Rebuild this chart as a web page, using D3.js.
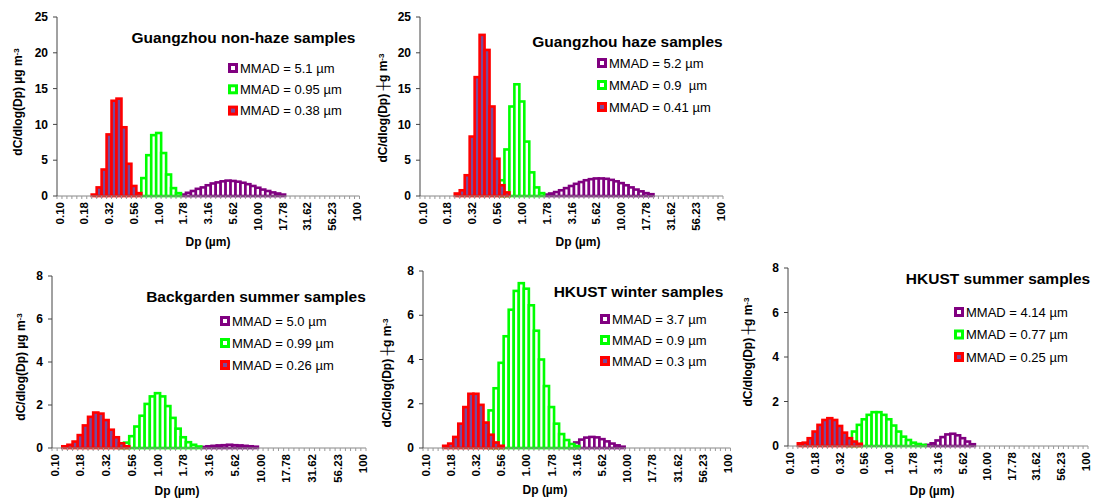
<!DOCTYPE html>
<html>
<head>
<meta charset="utf-8">
<script src="https://cdn.jsdelivr.net/npm/d3@7"></script>
<style>
  body { margin: 0; background: #fff; }
  text { font-family: Arial, "Liberation Sans", sans-serif; fill: #000; }
</style>
</head>
<body>
<svg id="chart" width="1094" height="500"></svg>
<script>
// size bins: 20 per decade, 0.1 to 100 um (61 categories like the excel axis)
var categories = d3.range(61);
var tickLabels = ["0.10", "0.18", "0.32", "0.56", "1.00", "1.78", "3.16", "5.62", "10.00", "17.78", "31.62", "56.23", "100"];

var seriesColors = ["#800080", "#00ff00", "#ff0000"];
var seriesFills = ["#ffffff", "#ffffff", "#7a4a9a"];

// first bin of each mode, then dC/dlogDp per bin
var gznPurple = {first: 25, values: [0.2, 0.45, 0.7, 1.0, 1.2, 1.5, 1.75, 1.9, 2.05, 2.15, 2.1, 2.0, 1.85, 1.65, 1.4, 1.15, 0.9, 0.7, 0.5, 0.35, 0.2]};
var gznGreen = {first: 17, values: [2.5, 5.7, 8.5, 8.8, 6.0, 3.0, 1.1, 0.4]};
var gznRed = {first: 7, values: [0.2, 1.2, 3.7, 8.6, 13.3, 13.6, 9.6, 4.5, 1.4, 0.4]};
var gznLegend = ["MMAD = 5.1 µm", "MMAD = 0.95 µm", "MMAD = 0.38 µm"];

var gzhPurple = {first: 25, values: [0.2, 0.35, 0.55, 0.8, 1.1, 1.4, 1.7, 1.95, 2.2, 2.35, 2.45, 2.45, 2.4, 2.25, 2.05, 1.8, 1.5, 1.2, 0.9, 0.65, 0.4, 0.25]};
var gzhGreen = {first: 16, values: [2.2, 6.5, 12.5, 15.6, 13.2, 7.6, 3.3, 1.2, 0.4]};
var gzhRed = {first: 7, values: [0.35, 0.8, 2.9, 8.3, 16.6, 22.5, 20.4, 12.5, 5.2, 1.5, 0.5]};
var gzhLegend = ["MMAD = 5.2 µm", "MMAD = 0.9  µm", "MMAD = 0.41 µm"];

var bgPurple = {first: 29, values: [0.05, 0.08, 0.1, 0.12, 0.13, 0.15, 0.13, 0.12, 0.1, 0.08, 0.06]};
var bgGreen = {first: 13, values: [0.15, 0.25, 0.55, 1.0, 1.5, 2.05, 2.4, 2.55, 2.4, 1.95, 1.4, 0.9, 0.5, 0.27, 0.15, 0.07]};
var bgRed = {first: 2, values: [0.08, 0.15, 0.3, 0.6, 1.05, 1.45, 1.65, 1.6, 1.3, 0.85, 0.5, 0.22, 0.08]};
var bgLegend = ["MMAD = 5.0 µm", "MMAD = 0.99 µm", "MMAD = 0.26 µm"];

var hkwPurple = {first: 29, values: [0.15, 0.25, 0.38, 0.47, 0.5, 0.48, 0.4, 0.3, 0.2, 0.12, 0.06]};
var hkwGreen = {first: 13, values: [1.7, 2.7, 3.85, 5.05, 6.25, 7.1, 7.45, 7.2, 6.45, 5.3, 4.0, 2.8, 1.85, 1.1, 0.63, 0.36, 0.18, 0.09]};
var hkwRed = {first: 4, values: [0.1, 0.2, 0.5, 1.1, 1.85, 2.45, 2.45, 1.95, 1.15, 0.6, 0.25, 0.1]};
var hkwLegend = ["MMAD = 3.7 µm", "MMAD = 0.9 µm", "MMAD = 0.3 µm"];

var hksPurple = {first: 28, values: [0.05, 0.12, 0.25, 0.4, 0.52, 0.55, 0.48, 0.35, 0.2, 0.08]};
var hksGreen = {first: 12, values: [0.35, 0.65, 0.95, 1.2, 1.4, 1.52, 1.52, 1.4, 1.2, 0.92, 0.65, 0.42, 0.27, 0.15, 0.09, 0.05]};
var hksRed = {first: 2, values: [0.12, 0.15, 0.35, 0.65, 0.95, 1.17, 1.25, 1.17, 0.9, 0.6, 0.35, 0.2, 0.1]};
var hksLegend = ["MMAD = 4.14 µm", "MMAD = 0.77 µm", "MMAD = 0.25 µm"];

var panels = [
  {title: "Guangzhou non-haze samples", unit: "µ", yMax: 25, yStep: 5,
   series: [gznPurple, gznGreen, gznRed], legend: gznLegend,
   x0: 57, x1: 359.5, yTop: 17, yBot: 196,
   titleX: 243.5, titleY: 42.5, legX: 228, legY: 68, legDy: 21.3,
   yLabX: 18, yLabY: 102, xLabX: 208, xLabY: 246},
  {title: "Guangzhou haze samples", unit: "┼", yMax: 25, yStep: 5,
   series: [gzhPurple, gzhGreen, gzhRed], legend: gzhLegend,
   x0: 420, x1: 723, yTop: 17, yBot: 196,
   titleX: 627.5, titleY: 47, legX: 597, legY: 63, legDy: 22,
   yLabX: 383, yLabY: 108, xLabX: 578, xLabY: 246},
  {title: "Backgarden summer samples", unit: "µ", yMax: 8, yStep: 2,
   series: [bgPurple, bgGreen, bgRed], legend: bgLegend,
   x0: 52, x1: 366, yTop: 276, yBot: 448,
   titleX: 256, titleY: 302, legX: 220, legY: 321, legDy: 22,
   yLabX: 21, yLabY: 367, xLabX: 177, xLabY: 495},
  {title: "HKUST winter samples", unit: "┼", yMax: 8, yStep: 2,
   series: [hkwPurple, hkwGreen, hkwRed], legend: hkwLegend,
   x0: 423, x1: 730.5, yTop: 271, yBot: 448,
   titleX: 638.5, titleY: 297, legX: 600, legY: 319, legDy: 21,
   yLabX: 387, yLabY: 373, xLabX: 545, xLabY: 494},
  {title: "HKUST summer samples", unit: "┼", yMax: 8, yStep: 2,
   series: [hksPurple, hksGreen, hksRed], legend: hksLegend,
   x0: 788, x1: 1088, yTop: 268, yBot: 446,
   titleX: 998, titleY: 283.5, legX: 954, legY: 312, legDy: 22.5,
   yLabX: 748, yLabY: 352, xLabX: 932, xLabY: 495}
];

var svg = d3.select("#chart");

panels.forEach(function(p) {
  var g = svg.append("g");

  var x = d3.scaleBand().domain(categories).range([p.x0, p.x1]).padding(0);
  var y = d3.scaleLinear().domain([0, p.yMax]).range([p.yBot, p.yTop]);

  // bars, purple first so red sits on top
  p.series.forEach(function(s, si) {
    g.append("g").selectAll("rect")
      .data(s.values)
      .enter().append("rect")
        .attr("x", function(d, i) { return x(s.first + i); })
        .attr("y", function(d) { return y(d); })
        .attr("width", x.bandwidth())
        .attr("height", function(d) { return p.yBot - y(d); })
        .attr("fill", seriesFills[si])
        .attr("stroke", seriesColors[si])
        .attr("stroke-width", 2.6);
  });

  // x axis: minor tick at every bin edge, label every 5 bins
  var xa = g.append("g").attr("transform", "translate(0," + p.yBot + ")");
  xa.append("line").attr("x1", p.x0).attr("x2", p.x1).attr("stroke", "#888").attr("stroke-width", 1);
  xa.selectAll("line.tk")
    .data(d3.range(categories.length + 1))
    .enter().append("line")
      .attr("class", "tk")
      .attr("x1", function(i) { return p.x0 + i * x.step(); })
      .attr("x2", function(i) { return p.x0 + i * x.step(); })
      .attr("y1", 0).attr("y2", 3)
      .attr("stroke", "#999").attr("stroke-width", 1);
  xa.selectAll("text")
    .data(tickLabels)
    .enter().append("text")
      .attr("transform", function(d, i) {
        return "translate(" + (x(i * 5) + x.bandwidth() / 2) + ",6) rotate(-90)";
      })
      .attr("text-anchor", "end")
      .attr("dy", "0.35em")
      .style("font-size", "11.5px")
      .style("font-weight", "bold")
      .text(function(d) { return d; });

  // y axis
  var ya = g.append("g").attr("transform", "translate(" + p.x0 + ",0)");
  var yTicks = d3.range(0, p.yMax + 0.01, p.yStep);
  ya.append("line").attr("y1", p.yTop).attr("y2", p.yBot).attr("stroke", "#444");
  ya.selectAll("line.tk")
    .data(yTicks)
    .enter().append("line")
      .attr("class", "tk")
      .attr("x1", -4).attr("x2", 0)
      .attr("y1", function(d) { return y(d); })
      .attr("y2", function(d) { return y(d); })
      .attr("stroke", "#444");
  ya.selectAll("text")
    .data(yTicks)
    .enter().append("text")
      .attr("x", -9)
      .attr("y", function(d) { return y(d); })
      .attr("dy", "0.35em")
      .attr("text-anchor", "end")
      .style("font-size", "12px")
      .style("font-weight", "bold")
      .text(function(d) { return d; });

  // axis titles
  var yl = g.append("text")
    .attr("transform", "translate(" + p.yLabX + "," + p.yLabY + ") rotate(-90)")
    .attr("text-anchor", "middle")
    .attr("dy", "0.35em")
    .style("font-size", "12px")
    .style("font-weight", "bold");
  yl.append("tspan").text("dC/dlog(Dp) " + p.unit + "g m");
  yl.append("tspan").attr("dy", "-0.45em").style("font-size", "8px").text("-3");

  g.append("text")
    .attr("x", p.xLabX).attr("y", p.xLabY)
    .attr("text-anchor", "middle")
    .style("font-size", "12px")
    .style("font-weight", "bold")
    .text("Dp (µm)");

  g.append("text")
    .attr("x", p.titleX).attr("y", p.titleY)
    .attr("text-anchor", "middle")
    .style("font-size", "15.5px")
    .style("font-weight", "bold")
    .text(p.title);

  // legend, same order as the series
  var lg = g.append("g");
  p.legend.forEach(function(label, i) {
    var cy = p.legY + i * p.legDy;
    lg.append("rect")
      .attr("x", p.legX + 1.5).attr("y", cy - 3.5)
      .attr("width", 7).attr("height", 7)
      .attr("fill", seriesFills[i])
      .attr("stroke", seriesColors[i])
      .attr("stroke-width", 3);
    lg.append("text")
      .attr("x", p.legX + 12).attr("y", cy)
      .attr("dy", "0.35em")
      .style("font-size", "13px")
      .style("white-space", "pre")
      .text(label);
  });
});
</script>
</body>
</html>
